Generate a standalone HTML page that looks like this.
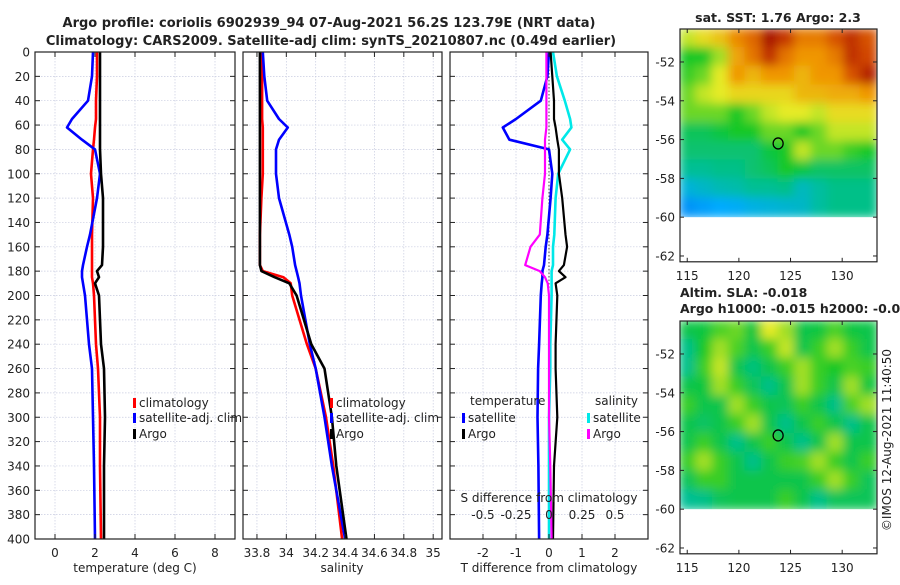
<!DOCTYPE html>
<html><head><meta charset="utf-8"><style>
body{margin:0;background:#fff;}
svg text{font-family:"DejaVu Sans","Liberation Sans",sans-serif;fill:#222;}
</style></head><body>
<svg id="c" width="900" height="580" viewBox="0 0 900 580" xmlns="http://www.w3.org/2000/svg">
<defs><filter id="bl" x="0" y="0" width="1" height="1"><feGaussianBlur stdDeviation="5"/></filter>
<clipPath id="m1"><rect x="680" y="29" width="197" height="189"/></clipPath>
<clipPath id="m2"><rect x="680" y="321" width="197" height="189"/></clipPath></defs>
<text x="329" y="27" text-anchor="middle" font-size="13" font-weight="bold">Argo profile: coriolis 6902939_94 07-Aug-2021 56.2S 123.79E (NRT data)</text>
<text x="331" y="45" text-anchor="middle" font-size="13" font-weight="bold">Climatology: CARS2009. Satellite-adj clim: synTS_20210807.nc (0.49d earlier)</text>
<text x="778" y="22" text-anchor="middle" font-size="12.5" font-weight="bold">sat. SST: 1.76 Argo: 2.3</text>
<text x="680" y="297" font-size="12.5" font-weight="bold">Altim. SLA: -0.018</text>
<text x="680" y="313" font-size="12.5" font-weight="bold">Argo h1000: -0.015 h2000: -0.027</text>
<text transform="translate(891,440) rotate(-90)" text-anchor="middle" font-size="12">©IMOS 12-Aug-2021 11:40:50</text>
<g id="g"></g>
</svg>
<script>
const depths=[0,20,40,55,62,72,80,100,120,150,160,175,180,185,190,200,240,260,300,340,400];
const tArgo=[2.25,2.25,2.25,2.25,2.25,2.25,2.25,2.3,2.4,2.4,2.4,2.35,2.1,2.2,2.0,2.2,2.3,2.45,2.5,2.45,2.45];
const tClim=[2.1,2.1,2.05,2.05,2.0,1.95,1.9,1.8,1.9,1.85,1.85,1.85,1.85,1.85,1.9,1.95,2.05,2.15,2.25,2.25,2.3];
const tSat=[1.9,1.85,1.65,0.85,0.6,1.35,2.0,2.25,2.1,1.75,1.6,1.4,1.35,1.35,1.4,1.5,1.7,1.85,1.9,1.95,2.0];
const sArgo=[33.82,33.82,33.82,33.82,33.82,33.82,33.82,33.82,33.82,33.82,33.82,33.82,33.83,33.92,34.02,34.07,34.17,34.26,34.31,34.34,34.41];
const sClim=[33.835,33.835,33.835,33.835,33.84,33.84,33.84,33.84,33.83,33.82,33.82,33.82,33.84,33.98,34.03,34.04,34.14,34.2,34.27,34.32,34.38];
const sSat=[33.84,33.85,33.87,33.95,34.01,33.95,33.93,33.93,33.95,34.02,34.04,34.06,34.07,34.08,34.09,34.1,34.16,34.2,34.26,34.31,34.4];
const dTSat=[0,-0.05,-0.25,-1.0,-1.4,-1.2,0,0.1,0.05,-0.05,-0.1,-0.15,-0.2,-0.2,-0.22,-0.25,-0.3,-0.33,-0.35,-0.32,-0.3];
const dTArgo=[0.05,0.1,0.15,0.15,0.2,0.25,0.3,0.3,0.4,0.5,0.55,0.45,0.3,0.5,0.2,0.25,0.2,0.2,0.25,0.15,0.12];
const dSSat=[0.03,0.06,0.12,0.16,0.17,0.1,0.16,0.07,0.05,0.04,0.03,0.03,0.02,0.02,0.02,0.02,0.01,0.01,0.0,0.0,0.0];
const dSArgo=[-0.02,-0.02,-0.02,-0.02,-0.02,-0.03,-0.03,-0.03,-0.05,-0.07,-0.14,-0.18,-0.07,-0.03,-0.01,0.0,0.0,0.0,0.0,0.01,0.02];
const tTicks=[0,2,4,6,8];
const sTicks=[33.8,34,34.2,34.4,34.6,34.8,35];
const dTicks=[-2,-1,0,1,2];
const dSTicks=[-0.5,-0.25,0,0.25,0.5];
const dSTickLabels=["-0.5","-0.25","0","0.25","0.5"];
const depthTicks=[0,20,40,60,80,100,120,140,160,180,200,220,240,260,280,300,320,340,360,380,400];
const latTicks=[-52,-54,-56,-58,-60,-62];
const lonTicks=[115,120,125,130];
const sstGrid=[
[.6,.65,.7,.8,.85,.97,.92,.82,.82,.88,.93,.88],
[.5,.5,.58,.75,.83,.93,.83,.78,.78,.82,.93,.9],
[.52,.55,.62,.78,.72,.78,.78,.72,.78,.78,.88,.95],
[.55,.6,.62,.66,.66,.66,.66,.72,.72,.74,.74,.78],
[.55,.55,.55,.5,.55,.6,.62,.62,.6,.65,.65,.65],
[.46,.46,.48,.5,.5,.55,.55,.5,.55,.6,.6,.6],
[.44,.44,.44,.44,.44,.48,.5,.6,.55,.55,.52,.5],
[.41,.41,.42,.42,.44,.46,.5,.48,.45,.45,.45,.45],
[.34,.36,.38,.39,.41,.41,.42,.37,.4,.42,.42,.42],
[.26,.28,.3,.31,.33,.34,.35,.36,.4,.42,.42,.42]];
const slaGrid=[
[.47,.48,.53,.55,.48,.62,.58,.47,.48,.53,.48,.47],
[.42,.5,.58,.53,.47,.52,.6,.47,.52,.58,.52,.47],
[.42,.52,.6,.47,.43,.47,.52,.58,.52,.5,.53,.52],
[.47,.48,.58,.52,.46,.42,.47,.58,.52,.47,.58,.48],
[.52,.47,.47,.58,.52,.47,.46,.52,.47,.42,.53,.58],
[.47,.45,.47,.52,.58,.47,.42,.47,.52,.47,.42,.47],
[.47,.52,.47,.42,.47,.52,.47,.42,.47,.58,.47,.47],
[.52,.58,.52,.47,.42,.47,.52,.53,.58,.52,.47,.52],
[.46,.52,.52,.47,.47,.47,.47,.47,.52,.58,.52,.46],
[.41,.42,.46,.47,.47,.47,.52,.47,.42,.46,.46,.46]];
const argoLon=123.8, argoLat=-56.2;

const NS="http://www.w3.org/2000/svg", G=document.getElementById('g');
function el(t,a,p){const e=document.createElementNS(NS,t);for(const k in a)e.setAttribute(k,a[k]);(p||G).appendChild(e);return e;}
function txt(x,y,s,a,p){const e=el('text',Object.assign({x:x,y:y,'font-size':12},a||{}),p);e.textContent=s;return e;}
const yD=d=>52+d*1.2175;
const yTop=52,yBot=539;
const panels=[{x0:35,x1:235,lo:-1,hi:9},{x0:243,x1:442,lo:33.705,hi:35.06},{x0:450,x1:648,lo:-3,hi:3}];
panels.forEach(p=>p.f=v=>p.x0+(v-p.lo)/(p.hi-p.lo)*(p.x1-p.x0));
const xS=v=>panels[2].f(v*4);
function grid(p,ticks,f,name){
  depthTicks.forEach(d=>{const l=el('line',{x1:p.x0,x2:p.x1,y1:yD(d),y2:yD(d),stroke:'#c8cce0','stroke-width':.7,'stroke-dasharray':'1.5,1.5'});
  
  });
  ticks.forEach(t=>{const l=el('line',{x1:f(t),x2:f(t),y1:yTop,y2:yBot,stroke:'#c8cce0','stroke-width':.7,'stroke-dasharray':'1.5,1.5'});
  
  });
}
function frame(p,name){
  const r=el('rect',{x:p.x0,y:yTop,width:p.x1-p.x0,height:yBot-yTop,fill:'none',stroke:'#222','stroke-width':1.2});
  
  
  depthTicks.forEach(d=>{el('line',{x1:p.x0,x2:p.x0+5,y1:yD(d),y2:yD(d),stroke:'#222'});el('line',{x1:p.x1,x2:p.x1-5,y1:yD(d),y2:yD(d),stroke:'#222'});});
}
function line(xs,f,col,name,w){
  const pts=xs.map((v,i)=>f(v).toFixed(1)+','+yD(depths[i]).toFixed(1)).join(' ');
  const l=el('polyline',{points:pts,fill:'none',stroke:col,'stroke-width':w||2.6,'stroke-linejoin':'round'});
  
  
}
const P1=panels[0],P2=panels[1],P3=panels[2];
grid(P1,tTicks,P1.f,'temp');grid(P2,sTicks,P2.f,'sal');grid(P3,dTicks,P3.f,'diff');
el('line',{x1:P3.f(0),x2:P3.f(0),y1:yTop,y2:yBot,stroke:'#444','stroke-width':1,'stroke-dasharray':'1.5,2'});
line(tClim,P1.f,'#f00','temp-climatology-line');line(tSat,P1.f,'#0000ff','temp-satellite-line');line(tArgo,P1.f,'#000','temp-argo-line');
line(sClim,P2.f,'#f00','sal-climatology-line');line(sSat,P2.f,'#0000ff','sal-satellite-line');line(sArgo,P2.f,'#000','sal-argo-line');
line(dTSat,P3.f,'#0000ff','dt-satellite-line');line(dSSat,xS,'#00e8e8','ds-satellite-line');line(dTArgo,P3.f,'#000','dt-argo-line',2.2);line(dSArgo,xS,'#f0f','ds-argo-line',2.2);
frame(P1,'temp');frame(P2,'sal');frame(P3,'diff');
depthTicks.forEach(d=>{const t=txt(30,yD(d)+4.5,String(d),{'text-anchor':'end'});

});
function xt(ticks,f,labels,name){ticks.forEach((v,i)=>{el('line',{x1:f(v),x2:f(v),y1:yBot,y2:yBot-5,stroke:'#222'});el('line',{x1:f(v),x2:f(v),y1:yTop,y2:yTop+5,stroke:'#222'});
const t=txt(f(v),yBot+18,labels?labels[i]:String(v),{'text-anchor':'middle'});

});}
xt(tTicks,P1.f,null,'temp');xt(sTicks,P2.f,null,'sal');xt(dTicks,P3.f,null,'dt');
dSTicks.forEach((v,i)=>{const t=txt(xS(v),yBot-20,dSTickLabels[i],{'text-anchor':'middle'});

});
txt(549,yBot-37,'S difference from climatology',{'text-anchor':'middle'});
txt(135,yBot+33,'temperature (deg C)',{'text-anchor':'middle'});
txt(342,yBot+33,'salinity',{'text-anchor':'middle'});
txt(549,yBot+33,'T difference from climatology',{'text-anchor':'middle'});
function leg(x,y,col,s){el('rect',{x:x,y:y-9,width:3,height:10,fill:col});const t=txt(x+6,y,s);

}
leg(133,407,'#f00','climatology');leg(133,422,'#0000ff','satellite-adj. clim');leg(133,438,'#000','Argo');
leg(330,407,'#f00','climatology');leg(330,422,'#0000ff','satellite-adj. clim');leg(330,438,'#000','Argo');
txt(470,405,'temperature');txt(595,405,'salinity');
leg(462,422,'#0000ff','satellite');leg(462,438,'#000','Argo');leg(587,422,'#00e8e8','satellite');leg(587,438,'#f0f','Argo');
function cmap(v){const st=[[0,[0,0,200]],[.3,[0,170,255]],[.4,[0,190,160]],[.5,[20,200,40]],[.62,[230,235,40]],[.78,[240,150,0]],[.9,[210,70,0]],[1,[150,0,0]]];
for(let i=1;i<st.length;i++)if(v<=st[i][0]){const a=st[i-1],b=st[i],t=(v-a[0])/(b[0]-a[0]);return 'rgb('+a[1].map((c,k)=>Math.round(c+(b[1][k]-c)*t)).join(',')+')';}return 'rgb(150,0,0)';}
function map(y0,data,clip,name){
  const lonF=l=>680+(l-114.3)*10.33, latF=a=>y0+(-50.3-a)*19.4;
  const g=el('g',{'clip-path':'url(#'+clip+')'});
  const gi=el('g',{filter:'url(#bl)'},g);
  const nc=data[0].length,nr=data.length,cw=197/nc,rh=(latF(-60)-y0)/nr;
  data.forEach((row,r)=>row.forEach((v,c)=>{const e=el('rect',{x:680+c*cw-1,y:y0+r*rh-1,width:cw+2,height:rh+2,fill:cmap(v)},gi);
  
  }));
  el('rect',{x:680,y:latF(-60),width:197,height:60,fill:'#fff'},g);
  const fr=el('rect',{x:680,y:y0,width:197,height:latF(-62.3)-y0,fill:'none',stroke:'#222','stroke-width':1.2});
  
  
  const b=latF(-62.3);
  latTicks.forEach(a=>{el('line',{x1:680,x2:684,y1:latF(a),y2:latF(a),stroke:'#222'});el('line',{x1:877,x2:873,y1:latF(a),y2:latF(a),stroke:'#222'});txt(675,latF(a)+4.5,String(a),{'text-anchor':'end'});});
  lonTicks.forEach(l=>{el('line',{x1:lonF(l),x2:lonF(l),y1:b,y2:b-4,stroke:'#222'});el('line',{x1:lonF(l),x2:lonF(l),y1:y0,y2:y0+4,stroke:'#222'});txt(lonF(l),b+18,String(l),{'text-anchor':'middle'});});
  const m=el('ellipse',{cx:lonF(argoLon),cy:latF(argoLat),rx:5,ry:5.5,fill:'none',stroke:'#000','stroke-width':1.3});
  
  
}
map(29,sstGrid,'m1','sst-map');map(321,slaGrid,'m2','sla-map');
</script>
</body></html>
